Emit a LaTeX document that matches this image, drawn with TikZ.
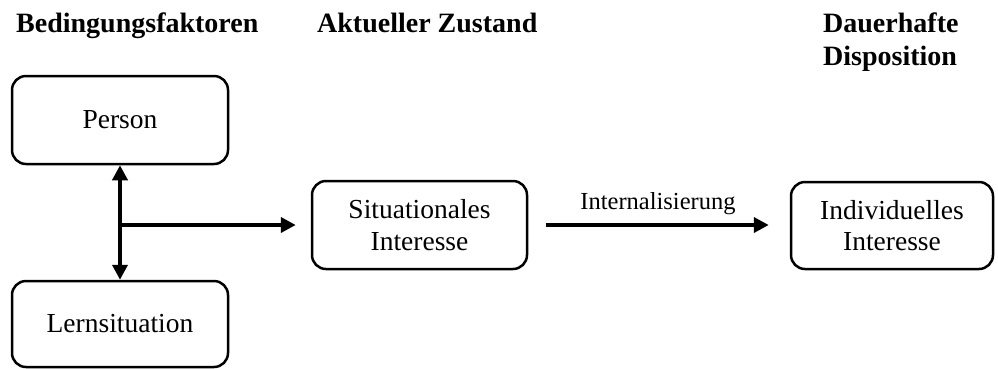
\documentclass[tikz,border=0pt]{standalone}
\usepackage{fontspec}
\setmainfont{Liberation Serif}
\usetikzlibrary{arrows.meta}
\begin{document}
\begin{tikzpicture}[x=1pt,y=-1pt,
  box/.style={draw,line width=2.5pt,rounded corners=14pt,minimum width=216pt,
    minimum height=88pt,align=center,inner sep=0pt,
    font=\fontsize{27.5}{31.7}\selectfont},
  header/.style={anchor=base west,inner sep=0pt,align=left,
    font=\fontsize{28}{33}\selectfont\bfseries},
  flow/.style={line width=4pt,-{Triangle[length=15pt,width=15pt]}},
  twoway/.style={line width=4pt,{Triangle[length=15pt,width=15pt]}-{Triangle[length=15pt,width=15pt]}}]
  \useasboundingbox (0,0) rectangle (998,368);

  % column headings
  \node[header] (h1) at (16,32) {Bedingungsfaktoren};
  \node[header] (h2) at (317,32) {Aktueller Zustand};
  \node[header] (h3) at (823,32) {Dauerhafte};
  \node[header] (h4) at (823,65) {Disposition};

  % boxes
  \node[box] (person) at (120,120) {Person};
  \begin{scope}
    \clip (0,0) rectangle (998,368);
    \node[box,minimum height=86pt] (lern) at (120,324) {Lernsituation};
  \end{scope}
  \node[box,minimum width=215pt] (sit) at (419.5,225) {Situationales\\Interesse};
  \node[box,minimum width=202pt,minimum height=87pt] (ind) at (892,225.5) {Individuelles\\Interesse};

  % connectors
  \draw[twoway] (person.south) -- (lern.north);
  \coordinate (junc) at (person.south |- sit.west);
  \coordinate (sitin) at ([xshift=-15pt]sit.west);
  \draw[flow] (junc) -- (sitin);
  \coordinate (intstart) at ([xshift=18pt]sit.east);
  \coordinate (intend) at ([xshift=-21pt]ind.west |- sit.east);
  \draw[flow] (intstart) -- (intend);
  \node[anchor=base,inner sep=0pt,font=\fontsize{24.5}{28}\selectfont] (intlabel)
    at (658,209) {Internalisierung};
\end{tikzpicture}
\end{document}
